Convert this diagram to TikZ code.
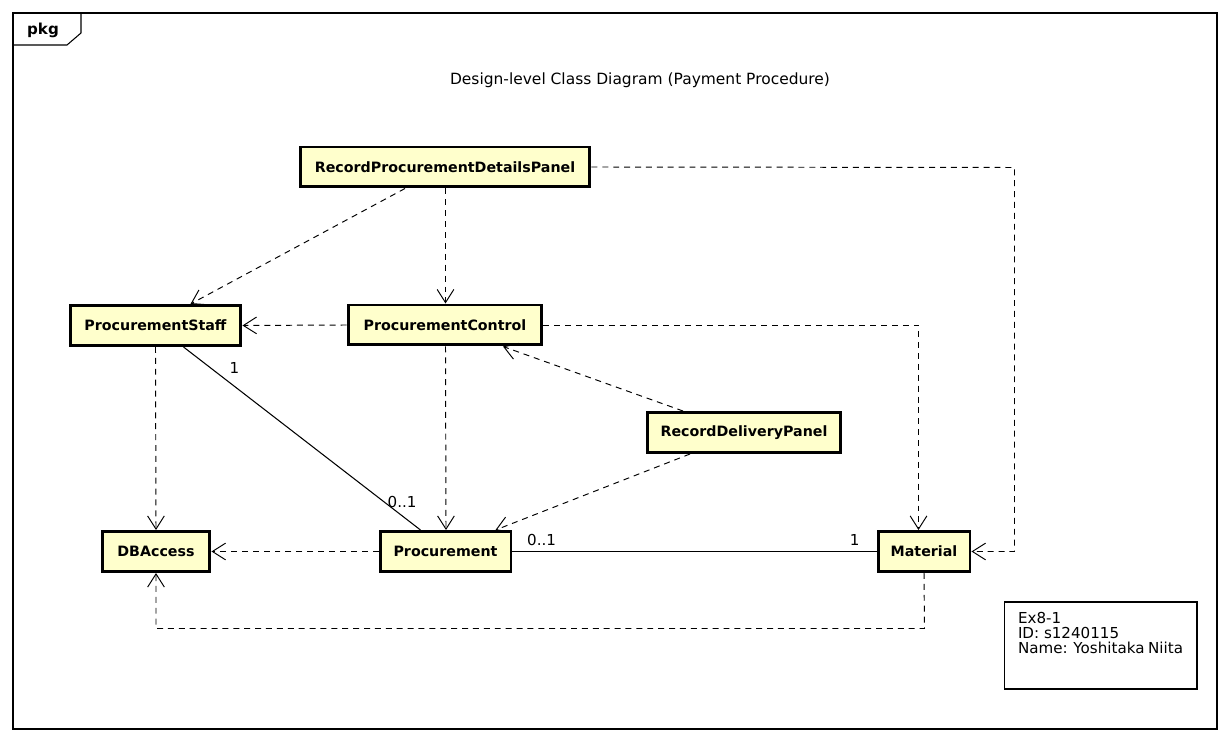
\documentclass[tikz,border=0pt]{standalone}
\usepackage{fontspec}
\setmainfont{DejaVu Sans}
\usetikzlibrary{arrows.meta}
\definecolor{classfill}{RGB}{255,255,204}
\tikzstyle{class} = [rectangle, draw=black, line width=1.7pt, fill=classfill, minimum height=0.8cm, inner sep=0pt, font=\fontsize{8.1}{9.6}\selectfont\bfseries]
\tikzstyle{dep} = [dash pattern=on 3.4pt off 2.8pt, line width=0.55pt, -{Straight Barb[length=7.5pt, width=9.5pt, line width=0.55pt]}]
\tikzstyle{assoc} = [line width=0.6pt]
\tikzstyle{mult} = [font=\fontsize{8.6}{10}\selectfont, inner sep=0pt]
\tikzstyle{notebox} = [rectangle, draw=black, line width=0.6pt, inner xsep=0.28cm, inner ysep=0.2cm, font=\fontsize{8.6}{8.6}\selectfont]

\begin{document}
\begin{tikzpicture}[x=0.02cm, y=-0.02cm]
\useasboundingbox (0,0) rectangle (1230,742);

% frame
\draw[line width=0.6pt] (13,13) rectangle (1217,729);
\draw[line width=0.6pt] (13,45) -- (67,45) -- (81,33) -- (81,13);
\node (pkg) at (43,30) {\fontsize{8.6}{10}\selectfont\bfseries pkg};
\node (title) at (640,80) {\fontsize{8.8}{10}\selectfont Design-level Class Diagram (Payment Procedure)};

% classes
\node (rpdp) [class, minimum width=5.8cm] at (445,167) {RecordProcurementDetailsPanel};
\node (staff) [class, minimum width=3.42cm] at (155.5,325.5) {ProcurementStaff};
\node (control) [class, minimum width=3.88cm] at (445,325) {ProcurementControl};
\node (rdp) [class, minimum width=3.86cm] at (744,432.5) {RecordDeliveryPanel};
\node (dbaccess) [class, minimum width=2.16cm] at (156,551.5) {DBAccess};
\node (proc) [class, minimum width=2.62cm] at (445.5,551.5) {Procurement};
\node (material) [class, minimum width=1.84cm] at (924,551.5) {Material};

\node (note) [notebox] at (1100.5,645.5) {\parbox[t][1.34cm][t]{3.3cm}{Ex8-1\\ID: s1240115\\Name: Yoshitaka Niita}};

% bends
\coordinate (rightbend) at (1014.5,167.5);
\coordinate (bottombend) at (924.5,628.5);

% dependencies
\draw[dep] ([xshift=-0.8cm]rpdp.south) -- ([xshift=0.7cm]staff.north);
\draw[dep] ([xshift=0.01cm]rpdp.south) -- ([xshift=0.01cm]control.north);
\draw[dep] (rpdp.east) -- (rightbend) |- (material.east);
\draw[dep] (control.west) -- (staff.east);
\draw[dep] (control.east) -| ([xshift=-0.11cm]material.north);
\draw[dep] ([xshift=0.01cm]control.south) -- ([xshift=0.01cm]proc.north);
\draw[dep] ([xshift=-1.22cm]rdp.north) -- ([xshift=1.16cm]control.south);
\draw[dep] ([xshift=-1.08cm]rdp.south) -- ([xshift=1cm]proc.north);
\draw[dep] (staff.south) -- (dbaccess.north);
\draw[dep] (proc.west) -- (dbaccess.east);
\draw[dep] (material.south) -- (bottombend) -| (dbaccess.south);

% associations
\draw[assoc] ([xshift=0.56cm]staff.south) -- ([xshift=-0.5cm]proc.north)
  node[mult, pos=0.15, anchor=south west, xshift=0.2cm] {1}
  node[mult, pos=0.88, above left, xshift=0.5cm] {0..1};
\draw[assoc] (proc.east) -- (material.west)
  node[mult, pos=0.08, above, yshift=0.1cm] {0..1}
  node[mult, pos=0.94, above, yshift=0.1cm] {1};
\end{tikzpicture}
\end{document}
